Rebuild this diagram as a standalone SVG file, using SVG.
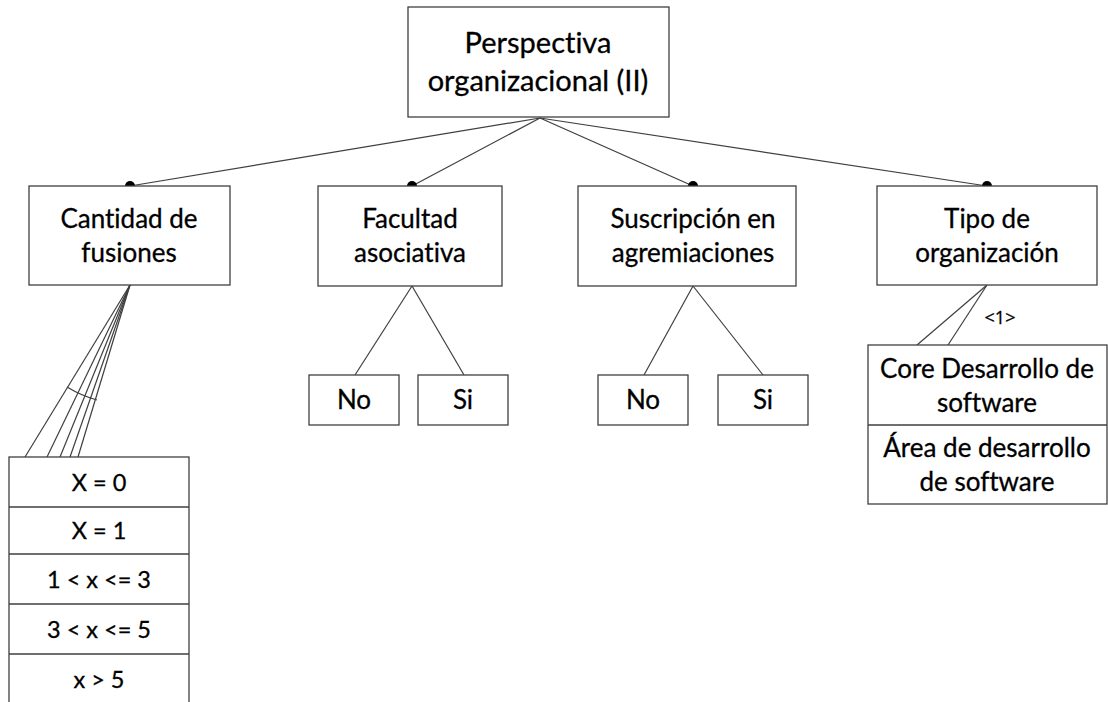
<svg xmlns="http://www.w3.org/2000/svg" width="1108" height="702" viewBox="0 0 1108 702">
  <style>
    .box { fill: #ffffff; stroke: #3f3f3f; stroke-width: 1.3; }
    .sep { stroke: #3f3f3f; stroke-width: 1.3; }
    .edge { stroke: #3f3f3f; stroke-width: 1.2; fill: none; }
    .dot { fill: #000000; }
    text { font-family: Lato, "Open Sans", sans-serif; fill: #000000; stroke: #000000; stroke-width: 0.3; text-anchor: middle; font-variant-ligatures: none; }
    .t1 { font-size: 29px; }
    .t2 { font-size: 26px; }
    .t3 { font-size: 23.5px; }
    .t4 { font-size: 18px; font-family: "Open Sans", sans-serif; }
  </style>
  <rect width="1108" height="702" fill="#ffffff"/>

  <!-- connectors -->
  <g id="connectors">
    <line class="edge" x1="540" y1="118" x2="130" y2="186"/>
    <line class="edge" x1="540" y1="118" x2="412" y2="186"/>
    <line class="edge" x1="540" y1="118" x2="693" y2="186"/>
    <line class="edge" x1="540" y1="118" x2="987" y2="186"/>
    <circle class="dot" cx="130" cy="186" r="5"/>
    <circle class="dot" cx="412" cy="186" r="5"/>
    <circle class="dot" cx="693" cy="186" r="5"/>
    <circle class="dot" cx="987" cy="186" r="5"/>

    <!-- Cantidad de fusiones fan-out -->
    <line class="edge" x1="130" y1="285" x2="25" y2="457"/>
    <line class="edge" x1="130" y1="285" x2="47" y2="457"/>
    <line class="edge" x1="130" y1="285" x2="60" y2="457"/>
    <line class="edge" x1="130" y1="285" x2="70" y2="457"/>
    <line class="edge" x1="130" y1="285" x2="78" y2="457"/>
    <path class="edge" d="M 67 387 A 120 120 0 0 0 97 400"/>

    <!-- Facultad asociativa -->
    <line class="edge" x1="412" y1="286" x2="355" y2="375"/>
    <line class="edge" x1="412" y1="286" x2="464" y2="375"/>

    <!-- Suscripcion en agremiaciones -->
    <line class="edge" x1="693" y1="286" x2="644" y2="375"/>
    <line class="edge" x1="693" y1="286" x2="763" y2="375"/>

    <!-- Tipo de organizacion -->
    <line class="edge" x1="987" y1="285" x2="917" y2="345"/>
    <line class="edge" x1="987" y1="285" x2="948" y2="345"/>
    <text class="t4" x="1000" y="324">&lt;1&gt;</text>
  </g>

  <g id="root">
    <rect class="box" x="408" y="7" width="261" height="110"/>
    <text class="t1" x="538" y="53">Perspectiva</text>
    <text class="t1" x="538" y="91">organizacional (II)</text>
  </g>

  <g id="cantidad">
    <rect class="box" x="29" y="186" width="201" height="99"/>
    <text class="t2" x="129" y="228">Cantidad de</text>
    <text class="t2" x="129" y="262">fusiones</text>
  </g>

  <g id="facultad">
    <rect class="box" x="318" y="186" width="184" height="100"/>
    <text class="t2" x="410" y="228">Facultad</text>
    <text class="t2" x="410" y="262">asociativa</text>
  </g>

  <g id="suscripcion">
    <rect class="box" x="578" y="186" width="218" height="100"/>
    <text class="t2" x="693" y="228">Suscripción en</text>
    <text class="t2" x="693" y="262">agremiaciones</text>
  </g>

  <g id="tipo">
    <rect class="box" x="877" y="186" width="220" height="99"/>
    <text class="t2" x="987" y="228">Tipo de</text>
    <text class="t2" x="987" y="262">organización</text>
  </g>

  <g id="facultad-no">
    <rect class="box" x="309" y="375" width="90" height="50"/>
    <text class="t2" x="354" y="409">No</text>
  </g>
  <g id="facultad-si">
    <rect class="box" x="418" y="375" width="90" height="50"/>
    <text class="t2" x="463" y="409">Si</text>
  </g>

  <g id="suscripcion-no">
    <rect class="box" x="598" y="375" width="90" height="50"/>
    <text class="t2" x="643" y="409">No</text>
  </g>
  <g id="suscripcion-si">
    <rect class="box" x="718" y="375" width="90" height="50"/>
    <text class="t2" x="763" y="409">Si</text>
  </g>

  <g id="fusiones-valores">
    <rect class="box" x="9" y="457" width="180" height="260"/>
    <line class="sep" x1="9" y1="507" x2="189" y2="507"/>
    <line class="sep" x1="9" y1="554" x2="189" y2="554"/>
    <line class="sep" x1="9" y1="604" x2="189" y2="604"/>
    <line class="sep" x1="9" y1="654" x2="189" y2="654"/>
    <text class="t3" x="99" y="491">X = 0</text>
    <text class="t3" x="99" y="539">X = 1</text>
    <text class="t3" x="99" y="588">1 &lt; x &lt;= 3</text>
    <text class="t3" x="99" y="638">3 &lt; x &lt;= 5</text>
    <text class="t3" x="99" y="688">x &gt; 5</text>
  </g>

  <g id="tipo-valores">
    <rect class="box" x="868" y="345" width="239" height="159"/>
    <line class="sep" x1="868" y1="425" x2="1107" y2="425"/>
    <text class="t2" x="987" y="378">Core Desarrollo de</text>
    <text class="t2" x="987" y="412">software</text>
    <text class="t2" x="987" y="457">Área de desarrollo</text>
    <text class="t2" x="987" y="491">de software</text>
  </g>
</svg>
